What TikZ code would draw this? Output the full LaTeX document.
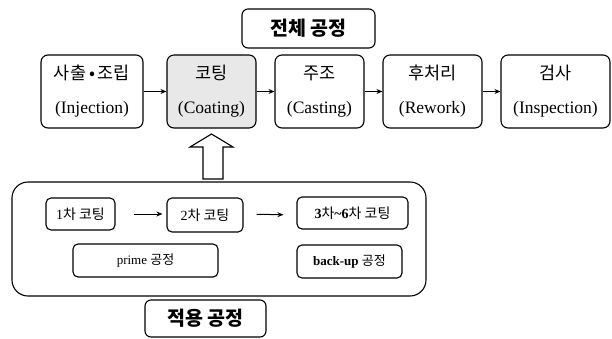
\documentclass[tikz,border=0pt]{standalone}
\usepackage{fontspec}
\setmainfont{Liberation Serif}
\newfontfamily\kr{Noto Sans CJK KR}
\usetikzlibrary{arrows.meta}
\tikzset{
  box/.style={draw, line width=1.1pt, rounded corners=7pt, align=center, inner sep=0pt},
  topbox/.style={box, minimum height=73pt, font=\fontsize{17.5}{19}\selectfont},
  inbox/.style={box, rounded corners=5pt, font=\fontsize{14}{16}\selectfont},
  inbox2/.style={inbox, font=\fontsize{13}{15}\selectfont},
  titlebox/.style={box, rounded corners=6pt, font=\fontsize{19.5}{21}\selectfont\kr\bfseries},
  flow/.style={line width=1pt, -{Stealth[length=6pt,width=5pt]}},
}
\begin{document}
\begin{tikzpicture}[x=1pt,y=-1pt]
\useasboundingbox (0,0) rectangle (612,338);
% title
\node[titlebox, minimum width=133pt, minimum height=39pt] (title) at (308.5,28.5) {전체 공정};
% top row
\node[topbox, minimum width=102pt] (b1) at (92,91.5) {{\kr 사출\,•\,조립}\\[15pt](Injection)};
\node[topbox, minimum width=89pt, fill=gray!18] (b2) at (211.5,91.5) {{\kr 코팅}\\[15pt](Coating)};
\node[topbox, minimum width=89pt] (b3) at (319.5,91.5) {{\kr 주조}\\[15pt](Casting)};
\node[topbox, minimum width=99pt] (b4) at (432.5,91.5) {{\kr 후처리}\\[15pt](Rework)};
\node[topbox, minimum width=109pt] (b5) at (555.5,91.5) {{\kr 검사}\\[15pt](Inspection)};
\draw[flow] (b1) -- (b2);
\draw[flow] (b2) -- (b3);
\draw[flow] (b3) -- (b4);
\draw[flow] (b4) -- (b5);
% block arrow
\draw[line width=1.1pt, fill=white] (203,179) -- (203,147) -- (190,147) -- (211.5,134) -- (233,147) -- (223,147) -- (223,179) -- cycle;
% big box
\node[box, rounded corners=16pt, minimum width=414pt, minimum height=114pt] (big) at (219,239) {};
\node[inbox, minimum width=69pt, minimum height=32pt] (c1) at (80.5,214) {1{\kr 차 코팅}};
\node[inbox, minimum width=76pt, minimum height=34pt] (c2) at (205,215) {2{\kr 차 코팅}};
\node[inbox, minimum width=111pt, minimum height=32pt] (c3) at (352.5,213) {\textbf{3}{\kr 차}\textbf{\textasciitilde6}{\kr 차 코팅}};
\draw[flow, shorten <=18pt, shorten >=4pt] (c1.east) -- (c1.east -| c2.west);
\draw[flow, shorten <=13pt, shorten >=13pt] (c2.east |- c1.east) -- (c2.east -| c3.west);
\node[inbox2, minimum width=145pt, minimum height=33pt] (p1) at (145.5,260.5) {prime {\kr 공정}};
\node[inbox2, minimum width=105pt, minimum height=33pt] (p2) at (349.5,261.5) {\textbf{back-up} {\kr 공정}};
% bottom title
\node[titlebox, minimum width=121pt, minimum height=37pt] (bottom) at (205.5,318.5) {적용 공정};
\end{tikzpicture}
\end{document}
